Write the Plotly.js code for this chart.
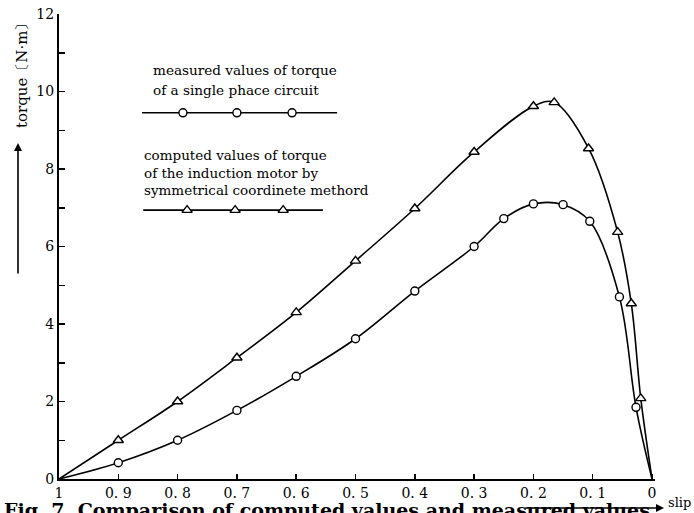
<!DOCTYPE html>
<html><head><meta charset="utf-8">
<script src="https://cdn.plot.ly/plotly-3.0.1.min.js"></script>
<style>html,body{margin:0;padding:0;background:#fff;}#chart{width:694px;height:513px;}</style>
</head><body><div id="chart"></div>
<script>
// slip values and torque [N·m]
const slipMeasured   = [1.0, 0.9, 0.8, 0.7, 0.6, 0.5, 0.4, 0.3, 0.25, 0.2, 0.15, 0.105, 0.055, 0.027, 0.0];
const torqueMeasured = [0.0, 0.42, 1.0, 1.77, 2.65, 3.62, 4.85, 6.0, 6.72, 7.1, 7.08, 6.65, 4.7, 1.85, 0.0];
const slipComputed   = [1.0, 0.9, 0.8, 0.7, 0.6, 0.5, 0.4, 0.3, 0.2, 0.165, 0.107, 0.058, 0.035, 0.019, 0.0];
const torqueComputed = [0.0, 1.0, 2.0, 3.13, 4.3, 5.63, 6.98, 8.44, 9.62, 9.72, 8.53, 6.37, 4.53, 2.08, 0.0];
const xTickVals  = [1, 0.9, 0.8, 0.7, 0.6, 0.5, 0.4, 0.3, 0.2, 0.1, 0];
const xTickText  = ["1", "0. 9", "0. 8", "0. 7", "0. 6", "0. 5", "0. 4", "0. 3", "0. 2", "0. 1", "0"];
const yTickVals  = [0,1,2,3,4,5,6,7,8,9,10,11,12];
const yTickText  = ["0","","2","","4","","6","","8","","10","","12"];
// legend sample glyph positions (decoration)
const legendMeasX = [0.86, 0.791, 0.70, 0.607, 0.531];
const legendMeasY = [9.45, 9.45, 9.45, 9.45, 9.45];
const legendCompX = [0.858, 0.784, 0.703, 0.622, 0.555];
const legendCompY = [6.94, 6.94, 6.94, 6.94, 6.94];

const serif = "DejaVu Serif, Liberation Serif, serif";
const lineStyle = {color:'#000', width:1.6, shape:'spline', smoothing:1};
const circMk = {symbol:'circle', size:8, color:'#fff', line:{width:1.4,color:'#000'}};
const triMk  = {symbol:'triangle-up', size:9, color:'#fff', line:{width:1.4,color:'#000'}};

const traces = [
  {x:slipMeasured, y:torqueMeasured, mode:'lines', line:lineStyle, showlegend:false},
  {x:slipComputed, y:torqueComputed, mode:'lines', line:lineStyle, showlegend:false},
  {x:slipMeasured.slice(1,-1), y:torqueMeasured.slice(1,-1), mode:'markers', marker:circMk, showlegend:false},
  {x:slipComputed.slice(1,-1), y:torqueComputed.slice(1,-1), mode:'markers', marker:triMk, showlegend:false},
  {x:[legendMeasX[0], legendMeasX[4]], y:[legendMeasY[0], legendMeasY[4]], mode:'lines', line:{color:'#000',width:1.6}, showlegend:false},
  {x:legendMeasX.slice(1,4), y:legendMeasY.slice(1,4), mode:'markers', marker:circMk, showlegend:false},
  {x:[legendCompX[0], legendCompX[4]], y:[legendCompY[0], legendCompY[4]], mode:'lines', line:{color:'#000',width:1.6}, showlegend:false},
  {x:legendCompX.slice(1,4), y:legendCompY.slice(1,4), mode:'markers', marker:triMk, showlegend:false}
];

const W = 596, H = 465, L = 59, B0 = 479;
const px = v => (v - L) / W;
const py = v => (B0 - v) / H;

const layout = {
  width:694, height:513,
  margin:{l:59, r:39, t:14, b:34},
  paper_bgcolor:'#fff', plot_bgcolor:'#fff',
  font:{family:serif, color:'#000', size:13},
  xaxis:{range:[1,-0.005], tickmode:'array', tickvals:xTickVals, ticktext:xTickText,
    ticks:'inside', ticklen:5, tickwidth:1.5, tickcolor:'#000',
    showline:true, linecolor:'#000', linewidth:2, showgrid:false, zeroline:false,
    tickfont:{family:serif, size:14, color:'#000'}},
  yaxis:{range:[0,12], tickmode:'array', tickvals:yTickVals, ticktext:yTickText,
    ticks:'inside', ticklen:6, tickwidth:1.5, tickcolor:'#000',
    showline:true, linecolor:'#000', linewidth:2, showgrid:false, zeroline:false,
    tickfont:{family:serif, size:14, color:'#000'}},
  annotations:[
    {xref:'paper', yref:'paper', x:px(151), y:py(70), xanchor:'left', yanchor:'middle', align:'left', showarrow:false,
     text:'measured values of torque', font:{family:serif, size:13.6}},
    {xref:'paper', yref:'paper', x:px(151), y:py(90), xanchor:'left', yanchor:'middle', align:'left', showarrow:false,
     text:'of a single phace circuit', font:{family:serif, size:13.6}},
    {xref:'paper', yref:'paper', x:px(142), y:py(172.5), xanchor:'left', yanchor:'middle', align:'left', showarrow:false,
     text:'computed values of torque<br>of the induction motor by<br>symmetrical coordinete methord', font:{family:serif, size:13.5}},
    {xref:'paper', yref:'paper', x:px(22), y:py(72), xanchor:'center', yanchor:'middle', textangle:-90, showarrow:false,
     text:'torque〔N·m〕', font:{family:serif, size:15}},
    {xref:'paper', yref:'paper', x:px(18), y:py(143), ax:0, ay:132, text:'', showarrow:true,
     arrowhead:2, arrowsize:1, arrowwidth:1.6, arrowcolor:'#000'},
    {xref:'paper', yref:'paper', x:px(2), y:py(497), xanchor:'left', yanchor:'top', showarrow:false,
     text:'<b>Fig. 7  Comparison of computed values and measured values</b>', font:{family:serif, size:19}},
    {xref:'paper', yref:'paper', x:px(664), y:py(508), ax:-140, ay:0, text:'', showarrow:true,
     arrowhead:2, arrowsize:1, arrowwidth:1.6, arrowcolor:'#000'},
    {xref:'paper', yref:'paper', x:px(666), y:py(503), xanchor:'left', yanchor:'middle', showarrow:false,
     text:'slip', font:{family:serif, size:13}}
  ]
};
Plotly.newPlot('chart', traces, layout, {displayModeBar:false, staticPlot:true});
</script></body></html>
